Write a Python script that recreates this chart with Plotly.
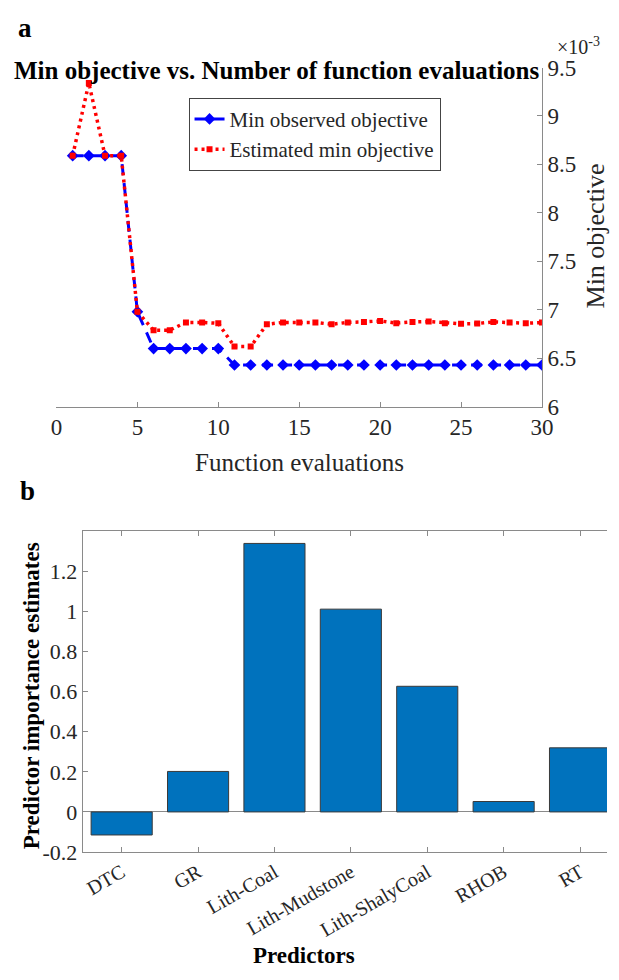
import plotly.graph_objects as go

# ---------------- data ----------------
# Panel a (values in units of 10^-3)
evals = [1, 2, 3, 4, 5, 6, 7, 8, 9, 10, 11, 12, 13, 14, 15,
         16, 17, 18, 19, 20, 21, 22, 23, 24, 25, 26, 27, 28, 29, 30]
min_observed = [8.59, 8.59, 8.59, 8.59, 6.98, 6.60, 6.60, 6.60, 6.60, 6.60,
                6.43, 6.43, 6.43, 6.43, 6.43, 6.43, 6.43, 6.43, 6.43, 6.43,
                6.43, 6.43, 6.43, 6.43, 6.43, 6.43, 6.43, 6.43, 6.43, 6.43]
est_min = [8.59, 9.34, 8.59, 8.59, 6.98, 6.79, 6.79, 6.87, 6.87, 6.86,
           6.62, 6.62, 6.85, 6.87, 6.87, 6.87, 6.85, 6.87, 6.875, 6.885,
           6.862, 6.875, 6.878, 6.862, 6.855, 6.858, 6.875, 6.868, 6.862, 6.868]
a_xticks = [0, 5, 10, 15, 20, 25, 30]
a_yticks = [6, 6.5, 7, 7.5, 8, 8.5, 9, 9.5]
a_yticklabels = ["6", "6.5", "7", "7.5", "8", "8.5", "9", "9.5"]

# Panel b
predictors = ["DTC", "GR", "Lith-Coal", "Lith-Mudstone", "Lith-ShalyCoal", "RHOB", "RT"]
importance = [-0.115, 0.202, 1.34, 1.012, 0.627, 0.052, 0.32]
b_yticks = [-0.2, 0, 0.2, 0.4, 0.6, 0.8, 1.0, 1.2]
b_yticklabels = ["-0.2", "0", "0.2", "0.4", "0.6", "0.8", "1", "1.2"]

# ---------------- figure ----------------
W, H = 619, 980
SERIF = "Liberation Serif"
TXT = "#262626"
AX = "#8a8a8a"


def px(x):
    return x / W


def py(y):
    return 1 - y / H


fig = go.Figure()

fig.add_trace(go.Scatter(
    x=evals, y=min_observed, name="Min observed objective",
    mode="lines+markers", xaxis="x", yaxis="y",
    line=dict(color="#0000ff", width=3, dash="11px,8px"),
    marker=dict(symbol="diamond", size=9, color="#0000ff"),
))
fig.add_trace(go.Scatter(
    x=evals, y=est_min, name="Estimated min objective",
    mode="lines+markers", xaxis="x", yaxis="y",
    line=dict(color="#ff0000", width=3.5, dash="3px,4px"),
    marker=dict(symbol="square", size=6, color="#ff0000"),
))

cat_pos = list(range(1, len(predictors) + 1))
fig.add_trace(go.Bar(
    x=cat_pos, y=importance, xaxis="x2", yaxis="y2", width=0.8,
    marker=dict(color="#0072BD", line=dict(color="#3a3a3a", width=1)),
    showlegend=False,
))

tickfont = dict(family=SERIF, size=23, color=TXT)

fig.update_layout(
    width=W, height=H, margin=dict(l=0, r=0, t=0, b=0),
    paper_bgcolor="white", plot_bgcolor="white",
    showlegend=True,
    legend=dict(
        x=px(188), y=py(88), xanchor="left", yanchor="top",
        bgcolor="white", bordercolor="#444444", borderwidth=1,
        font=dict(family=SERIF, size=21, color=TXT),
        itemwidth=30, tracegroupgap=0,
    ),
    xaxis=dict(
        domain=[px(52), px(552)], anchor="y", range=[0, 30],
        tickvals=a_xticks, ticks="inside", ticklen=5, tickcolor=AX,
        showline=True, linecolor=AX, linewidth=1, mirror=False,
        showgrid=False, zeroline=False, tickfont=tickfont,
    ),
    yaxis=dict(
        domain=[py(405), py(57)], anchor="x", range=[6, 9.5], side="right",
        tickvals=a_yticks, ticktext=a_yticklabels,
        ticks="inside", ticklen=5, tickcolor=AX,
        showline=True, linecolor=AX, linewidth=1,
        showgrid=False, zeroline=False, tickfont=tickfont,
    ),
    xaxis2=dict(
        domain=[px(79), 1.0], anchor="y2", range=[0.49, 7.353],
        tickvals=cat_pos, ticktext=predictors, tickangle=-30,
        ticks="inside", ticklen=5, tickcolor=AX,
        showline=True, linecolor=AX, linewidth=1, mirror="ticks",
        showgrid=False, zeroline=False,
        tickfont=dict(family=SERIF, size=20, color=TXT),
    ),
    yaxis2=dict(
        domain=[py(862), py(533)], anchor="x2", range=[-0.2, 1.4],
        tickvals=b_yticks, ticktext=b_yticklabels,
        ticks="inside", ticklen=5, tickcolor=AX,
        showline=True, linecolor=AX, linewidth=1,
        showgrid=False, zeroline=True, zerolinecolor=AX, zerolinewidth=1,
        tickfont=dict(family=SERIF, size=22, color=TXT),
    ),
    bargap=0.2,
)

ann = [
    dict(text="<b>a</b>", x=px(20), y=py(16), size=27),
    dict(text="<b>Min objective vs. Number of function evaluations</b>", x=px(279), y=py(60), size=25),
    dict(text="×10<sup>-3</sup>", x=px(590), y=py(35), size=20),
    dict(text="Function evaluations", x=px(302), y=py(462), size=25),
    dict(text="Min objective", x=px(607), y=py(230), size=26, angle=-90),
    dict(text="<b>b</b>", x=px(22), y=py(492), size=27),
    dict(text="<b>Predictor importance estimates</b>", x=px(26), y=py(702), size=23, angle=-90),
    dict(text="<b>Predictors</b>", x=px(307), y=py(968), size=23),
]
for a in ann:
    fig.add_annotation(
        text=a["text"], x=a["x"], y=a["y"], xref="paper", yref="paper",
        xanchor="center", yanchor="middle", showarrow=False,
        textangle=a.get("angle", 0),
        font=dict(family=SERIF, size=a["size"], color="#000000" if "<b>" in a["text"] else TXT),
    )

fig.write_html("out.html")
